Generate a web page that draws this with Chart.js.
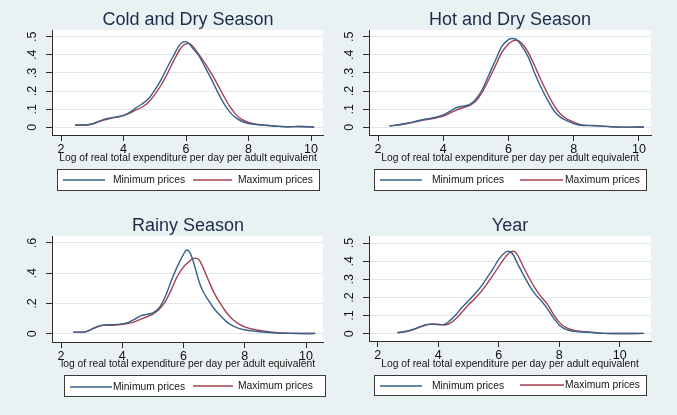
<!DOCTYPE html>
<html>
<head>
<meta charset="utf-8">
<script src="https://cdn.jsdelivr.net/npm/chart.js@4"></script>
<style>
  html, body { margin: 0; padding: 0; background: #e9f1f3; }
  #wrap { position: relative; width: 677px; height: 415px; background: #e9f1f3; overflow: hidden; }
  canvas { position: absolute; }
</style>
</head>
<body>
<div id="wrap">
  <canvas id="c1" width="338" height="207" style="left:0px;top:0px"></canvas>
  <canvas id="c2" width="340" height="207" style="left:337px;top:0px"></canvas>
  <canvas id="c3" width="338" height="208" style="left:0px;top:207px"></canvas>
  <canvas id="c4" width="340" height="208" style="left:337px;top:207px"></canvas>
</div>
<script>
// ---------------- DATA ----------------
const seriesNames = ['Minimum prices', 'Maximum prices'];
const panelTitles = ['Cold and Dry Season', 'Hot and Dry Season', 'Rainy Season', 'Year'];
const xAxisTitles = [
  'Log of real total expenditure per day per adult equivalent',
  'Log of real total expenditure per day per adult equivalent',
  'log of real total expenditure per day per adult equivalent',
  'Log of real total expenditure per day per adult equivalent'
];
const xTickValues = [2, 4, 6, 8, 10];
const xTickLabels = ['2', '4', '6', '8', '10'];
const yTickValuesA = [0, 0.1, 0.2, 0.3, 0.4, 0.5];
const yTickLabelsA = ['0', '.1', '.2', '.3', '.4', '.5'];
const yTickValuesB = [0, 0.2, 0.4, 0.6];
const yTickLabelsB = ['0', '.2', '.4', '.6'];

// Cold and Dry Season
const coldX   = [2.45, 2.8, 3.0, 3.2, 3.4, 3.6, 3.8, 4.0, 4.2, 4.4, 4.6, 4.8, 5.0, 5.2, 5.4, 5.6, 5.8, 5.9, 6.0, 6.1, 6.2, 6.4, 6.6, 6.8, 7.0, 7.2, 7.4, 7.6, 7.8, 8.0, 8.3, 8.6, 9.0, 9.3, 9.6, 10.1];
const coldMin = [0.012, 0.013, 0.018, 0.033, 0.045, 0.052, 0.058, 0.066, 0.083, 0.108, 0.13, 0.158, 0.205, 0.262, 0.33, 0.395, 0.455, 0.47, 0.473, 0.462, 0.44, 0.398, 0.335, 0.27, 0.2, 0.135, 0.085, 0.052, 0.032, 0.021, 0.014, 0.01, 0.005, 0.003, 0.004, 0.002];
const coldMax = [0.013, 0.013, 0.018, 0.03, 0.041, 0.05, 0.056, 0.064, 0.078, 0.096, 0.112, 0.138, 0.18, 0.232, 0.295, 0.365, 0.428, 0.45, 0.46, 0.462, 0.45, 0.405, 0.355, 0.3, 0.24, 0.175, 0.115, 0.07, 0.042, 0.027, 0.016, 0.011, 0.005, 0.003, 0.004, 0.002];

// Hot and Dry Season
const hotX   = [2.35, 2.6, 2.8, 3.0, 3.2, 3.4, 3.6, 3.8, 4.0, 4.2, 4.4, 4.6, 4.8, 5.0, 5.2, 5.4, 5.6, 5.8, 6.0, 6.1, 6.2, 6.3, 6.4, 6.6, 6.8, 7.0, 7.2, 7.4, 7.6, 7.8, 8.0, 8.2, 8.6, 9.0, 9.4, 9.8, 10.15];
const hotMin = [0.008, 0.013, 0.02, 0.026, 0.035, 0.043, 0.049, 0.057, 0.068, 0.088, 0.108, 0.117, 0.125, 0.155, 0.21, 0.29, 0.37, 0.448, 0.484, 0.49, 0.489, 0.475, 0.45, 0.39, 0.3, 0.22, 0.15, 0.09, 0.055, 0.035, 0.02, 0.011, 0.009, 0.005, 0.001, 0.001, 0.002];
const hotMax = [0.008, 0.012, 0.018, 0.025, 0.032, 0.04, 0.046, 0.053, 0.062, 0.078, 0.095, 0.108, 0.12, 0.145, 0.195, 0.265, 0.34, 0.415, 0.46, 0.473, 0.48, 0.478, 0.465, 0.415, 0.34, 0.26, 0.185, 0.12, 0.072, 0.045, 0.028, 0.015, 0.01, 0.005, 0.001, 0.001, 0.002];

// Rainy Season
const rainX   = [2.4, 2.8, 3.0, 3.2, 3.4, 3.7, 4.0, 4.2, 4.4, 4.6, 4.8, 5.0, 5.2, 5.4, 5.6, 5.8, 6.0, 6.1, 6.2, 6.3, 6.4, 6.5, 6.6, 6.8, 7.0, 7.2, 7.4, 7.6, 7.8, 8.0, 8.3, 8.7, 9.1, 9.5, 10.0, 10.3];
const rainMin = [0.01, 0.012, 0.03, 0.048, 0.058, 0.06, 0.065, 0.075, 0.095, 0.118, 0.128, 0.138, 0.17, 0.243, 0.35, 0.445, 0.525, 0.553, 0.54, 0.49, 0.42, 0.35, 0.295, 0.225, 0.165, 0.12, 0.08, 0.053, 0.035, 0.026, 0.017, 0.009, 0.004, 0.002, 0.001, 0.002];
const rainMax = [0.01, 0.012, 0.028, 0.045, 0.055, 0.056, 0.062, 0.068, 0.078, 0.095, 0.112, 0.13, 0.16, 0.21, 0.29, 0.38, 0.44, 0.462, 0.48, 0.497, 0.5, 0.49, 0.455, 0.36, 0.27, 0.2, 0.14, 0.095, 0.065, 0.045, 0.028, 0.014, 0.006, 0.003, 0.001, 0.002];

// Year
const yearX   = [2.65, 3.0, 3.3, 3.6, 3.8, 4.0, 4.2, 4.4, 4.6, 4.8, 5.0, 5.2, 5.4, 5.6, 5.8, 6.0, 6.2, 6.3, 6.4, 6.5, 6.6, 6.8, 7.0, 7.2, 7.4, 7.6, 7.8, 8.0, 8.2, 8.5, 9.0, 9.5, 10.0, 10.8];
const yearMin = [0.006, 0.015, 0.032, 0.05, 0.053, 0.05, 0.052, 0.075, 0.108, 0.147, 0.182, 0.218, 0.257, 0.305, 0.355, 0.41, 0.447, 0.455, 0.45, 0.43, 0.395, 0.33, 0.27, 0.22, 0.183, 0.14, 0.09, 0.048, 0.025, 0.013, 0.008, 0.002, 0.001, 0.002];
const yearMax = [0.006, 0.014, 0.03, 0.048, 0.054, 0.053, 0.048, 0.058, 0.085, 0.122, 0.16, 0.192, 0.228, 0.272, 0.32, 0.37, 0.418, 0.438, 0.452, 0.455, 0.44, 0.375, 0.31, 0.252, 0.205, 0.165, 0.11, 0.064, 0.036, 0.018, 0.009, 0.002, 0.001, 0.002];

// ---------------- STYLE / LAYOUT ----------------
const FONT = '"Liberation Sans", Arial, Helvetica, sans-serif';
const COLORS = ['#33628a', '#a5404f'];
const AXIS_COLOR = '#2b2b2b';
const GRID_COLOR = '#e2e7e9';

const panelDecor = {
  id: 'panelDecor',
  beforeDraw(chart, args, o) {
    const a = chart.chartArea, ctx = chart.ctx;
    ctx.save();
    ctx.fillStyle = '#ffffff';
    ctx.fillRect(a.left, a.top, a.right - a.left, a.bottom - a.top);
    ctx.restore();
  },
  afterDraw(chart, args, o) {
    const ctx = chart.ctx;
    ctx.save();
    ctx.textBaseline = 'middle';
    ctx.textAlign = 'center';
    ctx.fillStyle = '#1d2b4b';
    ctx.font = '18px ' + FONT;
    ctx.fillText(o.title, o.titleX, o.titleY);
    ctx.fillStyle = '#151515';
    ctx.font = '10.3px ' + FONT;
    ctx.fillText(o.xTitle, o.xTitleX, o.xTitleY);
    const L = o.legend;
    ctx.fillStyle = '#ffffff';
    ctx.fillRect(L.x, L.y, L.w, L.h);
    ctx.strokeStyle = '#3a3a3a';
    ctx.lineWidth = 1;
    ctx.strokeRect(L.x + 0.5, L.y + 0.5, L.w, L.h);
    chart.data.datasets.forEach((ds, i) => {
      const it = L.items[i];
      ctx.strokeStyle = ds.borderColor;
      ctx.lineWidth = 1.5;
      ctx.beginPath();
      ctx.moveTo(it.x0, it.y);
      ctx.lineTo(it.x1, it.y);
      ctx.stroke();
      ctx.fillStyle = '#151515';
      ctx.textAlign = 'left';
      ctx.font = '10.3px ' + FONT;
      ctx.fillText(ds.label, it.tx, it.y + 0.5);
    });
    ctx.restore();
  }
};

function makePanel(cfg) {
  const canvas = document.getElementById(cfg.id);
  const W = canvas.width, H = canvas.height;
  const datasets = cfg.series.map((vals, i) => ({
    label: seriesNames[i],
    data: cfg.xs.map((x, j) => ({ x: x, y: vals[j] })),
    borderColor: COLORS[i],
    backgroundColor: COLORS[i],
    borderWidth: 1.4,
    pointRadius: 0,
    fill: false,
    cubicInterpolationMode: 'monotone'
  }));
  return new Chart(canvas, {
    type: 'line',
    data: { datasets: datasets },
    plugins: [panelDecor],
    options: {
      responsive: false,
      animation: false,
      devicePixelRatio: 1,
      layout: { padding: { left: 0, top: cfg.area.top, right: W - cfg.area.right, bottom: 0 } },
      plugins: {
        legend: { display: false },
        title: { display: false },
        tooltip: { enabled: false },
        panelDecor: {
          title: cfg.title, titleX: cfg.titleX, titleY: cfg.titleY,
          xTitle: cfg.xTitle, xTitleX: cfg.xTitleX, xTitleY: cfg.xTitleY,
          legend: cfg.legend
        }
      },
      scales: {
        x: {
          type: 'linear',
          min: cfg.xMin, max: cfg.xMax,
          afterBuildTicks: s => { s.ticks = xTickValues.map(v => ({ value: v })); },
          afterFit: s => { s.height = H - cfg.area.bottom; },
          grid: { drawOnChartArea: false, drawTicks: true, tickLength: 6, tickColor: AXIS_COLOR, tickWidth: 1 },
          border: { display: true, color: AXIS_COLOR, width: 1 },
          ticks: {
            autoSkip: false, maxRotation: 0, minRotation: 0, padding: 1,
            color: '#111111', font: { family: FONT, size: 12.5 },
            callback: (v, i) => xTickLabels[i]
          }
        },
        y: {
          type: 'linear',
          min: cfg.yMin, max: cfg.yMax,
          afterBuildTicks: s => { s.ticks = cfg.yTicks.map(v => ({ value: v })); },
          afterFit: s => { s.width = cfg.area.left; },
          grid: { color: GRID_COLOR, lineWidth: 1, drawOnChartArea: true, drawTicks: true, tickLength: 6, tickColor: AXIS_COLOR, tickWidth: 1 },
          border: { display: true, color: AXIS_COLOR, width: 1 },
          ticks: {
            autoSkip: false, minRotation: 90, maxRotation: 90, crossAlign: 'center', padding: 8,
            color: '#111111', font: { family: FONT, size: 12.5 },
            callback: (v, i) => cfg.yLabels[i]
          }
        }
      }
    }
  });
}

makePanel({
  id: 'c1', xs: coldX, series: [coldMin, coldMax],
  area: { left: 52, right: 323, top: 30, bottom: 135 },
  xMin: 1.712, xMax: 10.384, yMin: -0.0425, yMax: 0.537,
  yTicks: yTickValuesA, yLabels: yTickLabelsA,
  title: panelTitles[0], titleX: 188, titleY: 20,
  xTitle: xAxisTitles[0], xTitleX: 188, xTitleY: 158,
  legend: { x: 57, y: 169, w: 262, h: 21, items: [
    { x0: 63, x1: 105, tx: 113, y: 180 }, { x0: 193, x1: 232, tx: 238, y: 180 } ] }
});
makePanel({
  id: 'c2', xs: hotX, series: [hotMin, hotMax],
  area: { left: 32, right: 314, top: 30, bottom: 135 },
  xMin: 1.724, xMax: 10.368, yMin: -0.0425, yMax: 0.537,
  yTicks: yTickValuesA, yLabels: yTickLabelsA,
  title: panelTitles[1], titleX: 173, titleY: 20,
  xTitle: xAxisTitles[1], xTitleX: 173, xTitleY: 158,
  legend: { x: 37, y: 169, w: 272, h: 21, items: [
    { x0: 43, x1: 85, tx: 95, y: 180 }, { x0: 183, x1: 226, tx: 228, y: 180 } ] }
});
makePanel({
  id: 'c3', xs: rainX, series: [rainMin, rainMax],
  area: { left: 52, right: 323, top: 29, bottom: 135 },
  xMin: 1.706, xMax: 10.555, yMin: -0.055, yMax: 0.646,
  yTicks: yTickValuesB, yLabels: yTickLabelsB,
  title: panelTitles[2], titleX: 188, titleY: 19,
  xTitle: xAxisTitles[2], xTitleX: 188, xTitleY: 157,
  legend: { x: 64, y: 168, w: 261, h: 21, items: [
    { x0: 70, x1: 112, tx: 113, y: 180 }, { x0: 193, x1: 233, tx: 238, y: 179 } ] }
});
makePanel({
  id: 'c4', xs: yearX, series: [yearMin, yearMax],
  area: { left: 32, right: 314, top: 29, bottom: 134 },
  xMin: 1.712, xMax: 11.035, yMin: -0.040, yMax: 0.539,
  yTicks: yTickValuesA, yLabels: yTickLabelsA,
  title: panelTitles[3], titleX: 173, titleY: 19,
  xTitle: xAxisTitles[3], xTitleX: 173, xTitleY: 157,
  legend: { x: 37, y: 168, w: 272, h: 20, items: [
    { x0: 43, x1: 85, tx: 95, y: 179 }, { x0: 183, x1: 227, tx: 228, y: 178 } ] }
});
</script>
</body>
</html>
